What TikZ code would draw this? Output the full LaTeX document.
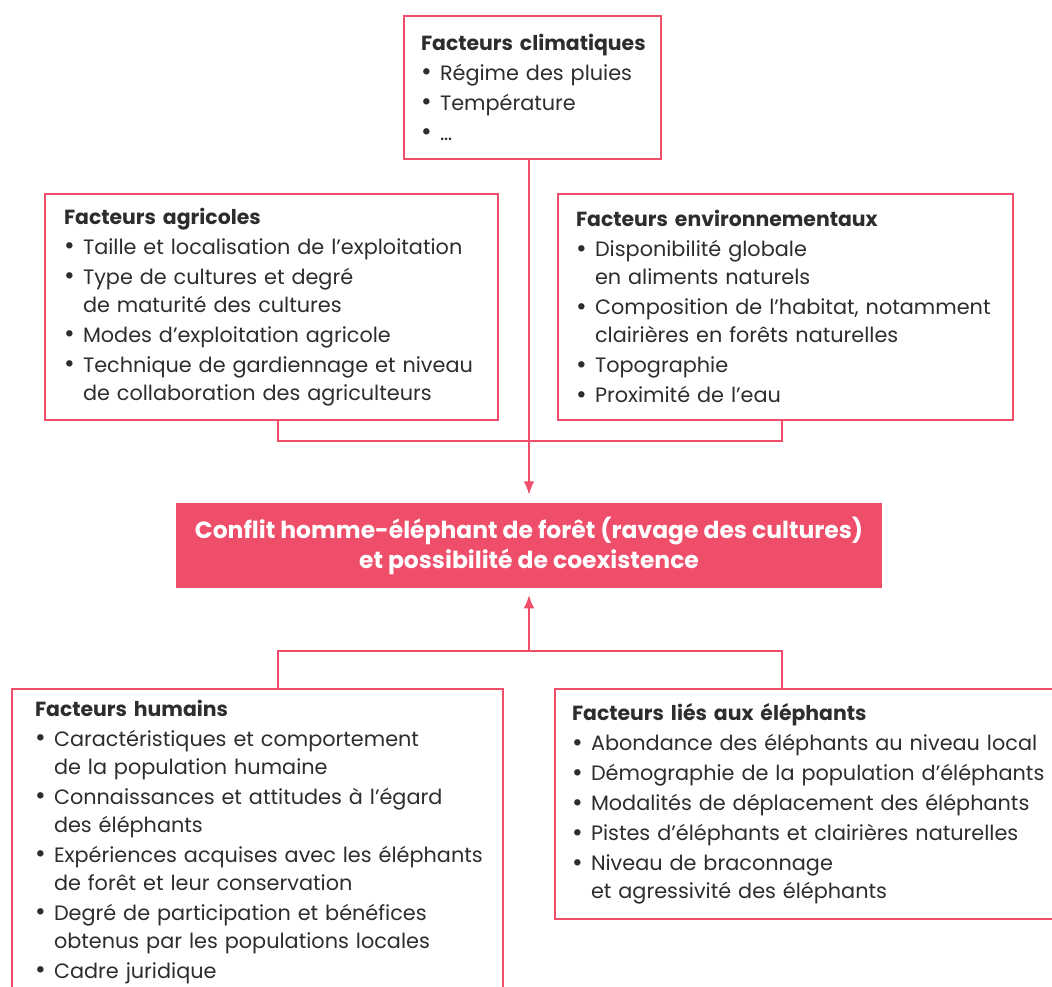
\documentclass[tikz,border=0pt]{standalone}
\usepackage{fontspec}
\setmainfont{Poppins}
\usetikzlibrary{arrows.meta}

\definecolor{rose}{RGB}{239,78,107}
\definecolor{encre}{RGB}{45,45,45}

\newcommand\titre[1]{\mbox{\fontsize{15.3}{21}\selectfont\bfseries #1}}
\newcommand\puce[1]{\mbox{\makebox[14.25pt][l]{\raisebox{-0.3pt}{\scalebox{1.25}{\textbullet}}}#1}}
\newcommand\suite[1]{\mbox{\hspace*{14.25pt}#1}}

\tikzset{
  factbox/.style={draw=rose, line width=1.5pt, fill=white, anchor=north west, align=left,
    inner xsep=0pt, inner ysep=0pt, text=encre, font=\fontsize{15.6}{21}\selectfont},
  mainbox/.style={fill=rose, text=white, align=center, inner sep=0pt,
    font=\fontsize{17.6}{22.5}\selectfont\bfseries},
  link/.style={draw=rose, line width=1.5pt},
  fleche/.style={link, -{Latex[length=10pt,width=8pt]}},
}

\begin{document}
\begin{tikzpicture}[x=0.75pt,y=0.75pt,yscale=-1,xscale=1]
\useasboundingbox (0,0) rectangle (1052,987);
\clip (0,0) rectangle (1052,987);

% Box: climatic factors
\node [factbox, minimum width=192.75pt, minimum height=107.25pt, text width=167.25pt] (clim) at (403,15)
  {\titre{Facteurs climatiques}\\[1.5pt] \puce{Régime des pluies}\\[1.5pt] \puce{Température}\\[1.5pt] \puce{…}};

% Box: agricultural factors
\node [factbox, minimum width=339.75pt, minimum height=169.5pt, text width=311.25pt] (agri) at (44,193)
  {\titre{Facteurs agricoles}\\[1.5pt]
   \puce{Taille et localisation de l’exploitation}\\[1.5pt]
   \puce{Type de cultures et degré}\\
   \suite{de maturité des cultures}\\[1.5pt]
   \puce{Modes d’exploitation agricole}\\[1.5pt]
   \puce{Technique de gardiennage et niveau}\\
   \suite{de collaboration des agriculteurs}};

% Box: environmental factors
\node [factbox, minimum width=341.25pt, minimum height=169.5pt, text width=314.25pt] (env) at (557,193)
  {\titre{Facteurs environnementaux}\\[1.5pt]
   \puce{Disponibilité globale}\\
   \suite{en aliments naturels}\\[1.5pt]
   \puce{Composition de l’habitat, notamment}\\
   \suite{clairières en forêts naturelles}\\[1.5pt]
   \puce{Topographie}\\[1.5pt]
   \puce{Proximité de l’eau}};

% Central box
\node [mainbox, minimum width=529.5pt, minimum height=63.75pt] (main) at (529,545.5)
  {Conflit homme-éléphant de forêt (ravage des cultures)\\ et possibilité de coexistence};

% Box: human factors
\node [factbox, minimum width=368.25pt, minimum height=229.5pt, text width=333.75pt] (hum) at (11,688)
  {\titre{Facteurs humains}\\[1.5pt]
   \puce{Caractéristiques et comportement}\\
   \suite{de la population humaine}\\[1.5pt]
   \puce{Connaissances et attitudes à l’égard}\\
   \suite{des éléphants}\\[1.5pt]
   \puce{Expériences acquises avec les éléphants}\\
   \suite{de forêt et leur conservation}\\[1.5pt]
   \puce{Degré de participation et bénéfices}\\
   \suite{obtenus par les populations locales}\\[1.5pt]
   \puce{Cadre juridique}};

% Box: elephant factors
\node [factbox, minimum width=382.5pt, minimum height=172.5pt, text width=357pt] (eleph) at (554,688)
  {\titre{Facteurs liés aux éléphants}\\[1.5pt]
   \puce{Abondance des éléphants au niveau local}\\[1.5pt]
   \puce{Démographie de la population d’éléphants}\\[1.5pt]
   \puce{Modalités de déplacement des éléphants}\\[1.5pt]
   \puce{Pistes d’éléphants et clairières naturelles}\\[1.5pt]
   \puce{Niveau de braconnage}\\
   \suite{et agressivité des éléphants}};

% Junctions of the brackets
\coordinate (hg) at (278,441);
\coordinate (hd) at (782,441);
\coordinate (bg) at (278,651);
\coordinate (bd) at (782,651);

% Upper bracket and arrow
\draw [link] (agri.south -| hg) -- (hg) -- (hd) -- (env.south -| hd);
\draw [fleche, shorten >=6pt] (main.north |- clim.south) -- (main.north);

% Lower bracket and arrow
\draw [link] (hum.north -| bg) -- (bg) -- (bd) -- (eleph.north -| bd);
\draw [fleche, shorten >=5pt] (main.south |- bg) -- (main.south);

\end{tikzpicture}
\end{document}
